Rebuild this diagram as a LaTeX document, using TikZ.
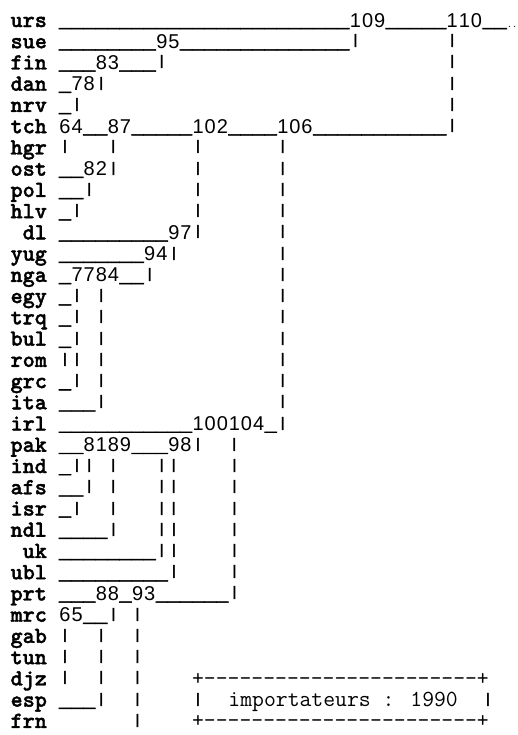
\documentclass[tikz,border=0pt]{standalone}
\usepackage{fontspec}
\newfontfamily\lmB{Liberation Mono}
\newfontfamily\usf{Liberation Mono Bold}[FakeBold=2.5]
\newfontfamily\numf{Liberation Sans}
\newfontfamily\lbf{lmmonolt10-bold}[Extension=.otf,FakeBold=1.6]
\newlength\cw
\setlength\cw{12.1pt}
\makeatletter
\newcommand\nb[1]{{\numf\fontsize{20}{20}\selectfont\@tfor\nbx:=#1\do{\makebox[\cw]{\nbx}}}}
\makeatother
\newcommand\lb[1]{{\lbf\fontsize{23.05}{24}\selectfont #1}}
\newcommand\bx{\fontsize{23.05}{24}\ttfamily\mdseries\selectfont}
\newcommand\ux[1]{{\usf\fontsize{20.1667}{20}\selectfont #1}}
\newcommand\pp{\makebox[\cw]{\raisebox{3.5pt}{\lmB\bfseries\fontsize{14}{14}\selectfont |}}}
\newcommand\bl[1]{\hspace*{#1\cw}}
\newcommand\dsh[1]{\foreach\i in {1,...,#1}{-}}
\tikzset{ascrow/.style={anchor=base west, inner sep=0pt, outer sep=0pt}}
\catcode`\_=12
\begin{document}
\begin{tikzpicture}[x=1pt,y=-21.24pt]
\useasboundingbox (0,-1.2712) rectangle (518,33.334);
\node[ascrow] (r0) at (10.6,0) {\lb{urs}\bl1\ux{________________________}\nb{109}\ux{_____}\nb{110}\ux{__}{\bx\fontsize{10}{10}\selectfont ..}};
\node[ascrow] (r1) at (10.6,1) {\lb{sue}\bl1\ux{________}\nb{95}\ux{______________}\pp\bl7\pp};
\node[ascrow] (r2) at (10.6,2) {\lb{fin}\bl1\ux{___}\nb{83}\ux{___}\pp\bl{23}\pp};
\node[ascrow] (r3) at (10.6,3) {\lb{dan}\bl1\ux{_}\nb{78}\pp\bl{28}\pp};
\node[ascrow] (r4) at (10.6,4) {\lb{nrv}\bl1\ux{_}\pp\bl{30}\pp};
\node[ascrow] (r5) at (10.6,5) {\lb{tch}\bl1\nb{64}\ux{__}\nb{87}\ux{_____}\nb{102}\ux{____}\nb{106}\ux{___________}\pp};
\node[ascrow] (r6) at (10.6,6) {\lb{hgr}\bl1\pp\bl3\pp\bl6\pp\bl6\pp};
\node[ascrow] (r7) at (10.6,7) {\lb{ost}\bl1\ux{__}\nb{82}\pp\bl6\pp\bl6\pp};
\node[ascrow] (r8) at (10.6,8) {\lb{pol}\bl1\ux{__}\pp\bl8\pp\bl6\pp};
\node[ascrow] (r9) at (10.6,9) {\lb{hlv}\bl1\ux{_}\pp\bl9\pp\bl6\pp};
\node[ascrow] (r10) at (10.6,10) {\bl1\lb{dl}\bl1\ux{_________}\nb{97}\pp\bl6\pp};
\node[ascrow] (r11) at (10.6,11) {\lb{yug}\bl1\ux{_______}\nb{94}\pp\bl8\pp};
\node[ascrow] (r12) at (10.6,12) {\lb{nga}\bl1\ux{_}\nb{7784}\ux{__}\pp\bl{10}\pp};
\node[ascrow] (r13) at (10.6,13) {\lb{egy}\bl1\ux{_}\pp\bl1\pp\bl{14}\pp};
\node[ascrow] (r14) at (10.6,14) {\lb{trq}\bl1\ux{_}\pp\bl1\pp\bl{14}\pp};
\node[ascrow] (r15) at (10.6,15) {\lb{bul}\bl1\ux{_}\pp\bl1\pp\bl{14}\pp};
\node[ascrow] (r16) at (10.6,16) {\lb{rom}\bl1\pp\pp\bl1\pp\bl{14}\pp};
\node[ascrow] (r17) at (10.6,17) {\lb{grc}\bl1\ux{_}\pp\bl1\pp\bl{14}\pp};
\node[ascrow] (r18) at (10.6,18) {\lb{ita}\bl1\ux{___}\pp\bl{14}\pp};
\node[ascrow] (r19) at (10.6,19) {\lb{irl}\bl1\ux{___________}\nb{100104}\ux{_}\pp};
\node[ascrow] (r20) at (10.6,20) {\lb{pak}\bl1\ux{__}\nb{8189}\ux{___}\nb{98}\pp\bl2\pp};
\node[ascrow] (r21) at (10.6,21) {\lb{ind}\bl1\ux{_}\pp\pp\bl1\pp\bl3\pp\pp\bl4\pp};
\node[ascrow] (r22) at (10.6,22) {\lb{afs}\bl1\ux{__}\pp\bl1\pp\bl3\pp\pp\bl4\pp};
\node[ascrow] (r23) at (10.6,23) {\lb{isr}\bl1\ux{_}\pp\bl2\pp\bl3\pp\pp\bl4\pp};
\node[ascrow] (r24) at (10.6,24) {\lb{ndl}\bl1\ux{____}\pp\bl3\pp\pp\bl4\pp};
\node[ascrow] (r25) at (10.6,25) {\bl1\lb{uk}\bl1\ux{________}\pp\pp\bl4\pp};
\node[ascrow] (r26) at (10.6,26) {\lb{ubl}\bl1\ux{_________}\pp\bl4\pp};
\node[ascrow] (r27) at (10.6,27) {\lb{prt}\bl1\ux{___}\nb{88}\ux{_}\nb{93}\ux{______}\pp};
\node[ascrow] (r28) at (10.6,28) {\lb{mrc}\bl1\nb{65}\ux{__}\pp\bl1\pp};
\node[ascrow] (r29) at (10.6,29) {\lb{gab}\bl1\pp\bl2\pp\bl2\pp};
\node[ascrow] (r30) at (10.6,30) {\lb{tun}\bl1\pp\bl2\pp\bl2\pp};
\node[ascrow] (r31) at (10.6,31) {\lb{djz}\bl1\pp\bl2\pp\bl2\pp\bl4{\bx +\dsh{23}+}};
\node[ascrow] (r32) at (10.6,32) {\lb{esp}\bl1\ux{___}\pp\bl2\pp\bl4\pp\bl2{\bx importateurs : 1990}\bl2\pp};
\node[ascrow] (r33) at (10.6,33) {\lb{frn}\bl7\pp\bl4{\bx +\dsh{23}+}};
\end{tikzpicture}
\end{document}
